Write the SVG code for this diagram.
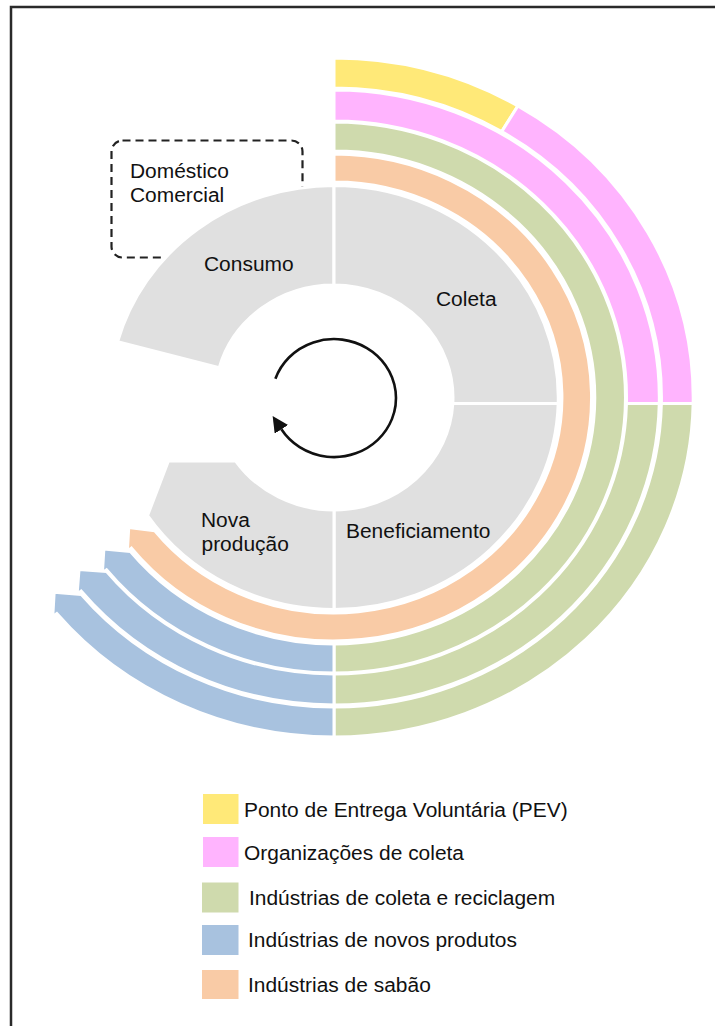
<svg xmlns="http://www.w3.org/2000/svg" width="715" height="1026" viewBox="0 0 715 1026">
<style>
.t{font-family:"Liberation Sans",Arial,sans-serif;font-size:19.8px;fill:#111}
.seg{stroke:#fff;stroke-width:3;vector-effect:non-scaling-stroke;stroke-linejoin:miter}
.g{fill:#e0e0e0}.y{fill:#ffe978}.p{fill:#ffb4fe}.gr{fill:#cfdaad}.b{fill:#a8c2df}.o{fill:#f9cba6}
</style>
<defs>
<marker id="ah" markerUnits="userSpaceOnUse" markerWidth="17" markerHeight="17" refX="0" refY="8" orient="auto" viewBox="0 0 17 17">
<path d="M0,0 L16,8 L0,16 Z" fill="#111"/>
</marker>
</defs>
<rect x="11" y="7" width="730" height="1040" fill="none" stroke="#2a2a2a" stroke-width="2.5"/>
<g id="box">
<rect x="111.5" y="140.5" width="191" height="117" rx="11" fill="none" stroke="#222" stroke-width="2.2" stroke-dasharray="8 5"/>
<text class="t" transform="matrix(1.058 0 0 1 130 178)">Doméstico</text>
<text class="t" transform="matrix(1.058 0 0 1 130 202)">Comercial</text>
</g>
<g id="rings" transform="translate(334,397.5) scale(1.058,1)">
<g id="consumo"><path class="seg g" d="M-204.5,-55.9 A212,212 0 0 1 0,-212 L0,-112.5 A112.5,112.5 0 0 0 -108.5,-29.7 Z"/></g>
<g id="coleta"><path class="seg g" d="M0,-212 A212,212 0 0 1 211.9,6 L112.3,6 A112.5,112.5 0 0 0 0,-112.5 Z"/></g>
<g id="beneficiamento"><path class="seg g" d="M211.9,6 A212,212 0 0 1 0,212 L0,112.5 A112.5,112.5 0 0 0 112.3,6 Z"/></g>
<g id="novaproducao"><path class="seg g" d="M0,212 A212,212 0 0 1 -176.2,118 L-156.5,63.5 L-92.9,63.5 A112.5,112.5 0 0 0 0,112.5 Z"/></g>
<g id="sabao"><path class="seg o" d="M0,-243.5 A243.5,243.5 0 1 1 -191.4,150.6 L-195.3,153.7 L-194.0,129.9 L-169.4,133.3 A215.5,215.5 0 1 0 0,-215.5 Z"/></g>
<g id="ring2">
<path class="seg gr" d="M0,-275.5 A275.5,275.5 0 0 1 0,275.5 L0,246.5 A246.5,246.5 0 0 0 0,-246.5 Z"/>
<path class="seg b" d="M0,275.5 A275.5,275.5 0 0 1 -215.0,172.2 L-218.9,175.4 L-217.5,151.4 L-192.4,154.1 A246.5,246.5 0 0 0 0,246.5 Z"/>
</g>
<g id="ring3">
<path class="seg p" d="M0,-307.5 A307.5,307.5 0 0 1 307.44,6 L276.43,6 A276.5,276.5 0 0 0 0,-276.5 Z"/>
<path class="seg gr" d="M307.44,6 A307.5,307.5 0 0 1 0,307.5 L0,276.5 A276.5,276.5 0 0 0 276.43,6 Z"/>
<path class="seg b" d="M0,307.5 A307.5,307.5 0 0 1 -239.0,193.5 L-242.8,196.7 L-241.0,171.9 L-214.9,174.0 A276.5,276.5 0 0 0 0,276.5 Z"/>
</g>
<g id="ring4">
<path class="seg y" d="M0,-339.5 A339.5,339.5 0 0 1 173.8,-291.6 L158.5,-265.9 A309.5,309.5 0 0 0 0,-309.5 Z"/>
<path class="seg p" d="M173.8,-291.6 A339.5,339.5 0 0 1 339.45,6 L309.44,6 A309.5,309.5 0 0 0 158.5,-265.9 Z"/>
<path class="seg gr" d="M339.45,6 A339.5,339.5 0 0 1 0,339.5 L0,309.5 A309.5,309.5 0 0 0 309.44,6 Z"/>
<path class="seg b" d="M0,339.5 A339.5,339.5 0 0 1 -262.0,216.0 L-265.8,219.1 L-264.5,194.8 L-238.8,196.9 A309.5,309.5 0 0 0 0,309.5 Z"/>
</g>
</g>
<g id="labels">
<text class="t" transform="matrix(1.058 0 0 1 204 271)">Consumo</text>
<text class="t" transform="matrix(1.058 0 0 1 436 306)">Coleta</text>
<text class="t" transform="matrix(1.058 0 0 1 346 538)">Beneficiamento</text>
<text class="t" transform="matrix(1.058 0 0 1 201 527)">Nova</text>
<text class="t" transform="matrix(1.058 0 0 1 201.5 551)">produção</text>
</g>
<g id="connectors">
<path d="M275.4,378.8 A62,59 0 1 1 281.4,429.3" fill="none" stroke="#111" stroke-width="2.6" marker-end="url(#ah)"/>
</g>
<g id="legend">
<rect class="y" x="203" y="794" width="35.5" height="30"/>
<text class="t" transform="matrix(1.058 0 0 1 244 816.7)">Ponto de Entrega Voluntária (PEV)</text>
<rect class="p" x="203" y="837" width="35.5" height="30"/>
<text class="t" transform="matrix(1.058 0 0 1 244 860)">Organizações de coleta</text>
<rect class="gr" x="202" y="882.5" width="36.5" height="30"/>
<text class="t" transform="matrix(1.058 0 0 1 249 905)">Indústrias de coleta e reciclagem</text>
<rect class="b" x="202" y="925" width="36.5" height="30"/>
<text class="t" transform="matrix(1.058 0 0 1 248 946.7)">Indústrias de novos produtos</text>
<rect class="o" x="202" y="970" width="36.5" height="29"/>
<text class="t" transform="matrix(1.058 0 0 1 248 991.7)">Indústrias de sabão</text>
</g>
</svg>
